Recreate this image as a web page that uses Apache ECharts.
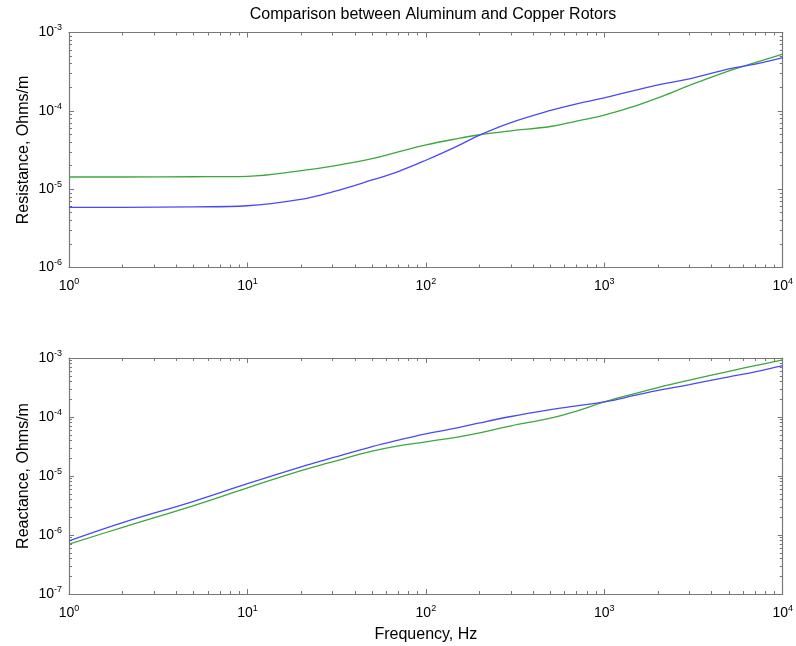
<!DOCTYPE html>
<html>
<head>
<meta charset="utf-8">
<script src="https://cdn.jsdelivr.net/npm/echarts@6/dist/echarts.min.js"></script>
<style>html,body{margin:0;padding:0;background:#fff}#c{width:796px;height:646px}</style>
</head>
<body>
<div id="c"></div>
<script>
const titleText = 'Comparison between Aluminum and Copper Rotors';
const freq = [1,2,5,10,20,30,50,70,100,150,200,300,500,700,1000,1500,2000,3000,5000,7000,10000];
// Top: resistance
const resBlue = [5.86e-6,5.87e-6,5.94e-6,6.14e-6,7.41e-6,9.23e-6,1.31e-5,1.68e-5,2.34e-5,3.55e-5,4.90e-5,7.08e-5,1.01e-4,1.23e-4,1.46e-4,1.84e-4,2.15e-4,2.56e-4,3.43e-4,3.94e-4,4.79e-4];
const resGreen = [1.43e-5,1.43e-5,1.44e-5,1.46e-5,1.72e-5,1.97e-5,2.45e-5,2.99e-5,3.67e-5,4.42e-5,4.95e-5,5.56e-5,6.31e-5,7.41e-5,8.81e-5,1.16e-4,1.46e-4,2.11e-4,3.24e-4,4.12e-4,5.31e-4];
// Bottom: reactance
const reaBlue = [7.94e-7,1.62e-6,3.72e-6,7.41e-6,1.43e-5,2.04e-5,3.16e-5,4.07e-5,5.19e-5,6.53e-5,7.94e-5,1.02e-4,1.33e-4,1.55e-4,1.80e-4,2.34e-4,2.82e-4,3.55e-4,4.79e-4,5.82e-4,7.41e-4];
const reaGreen = [7.00e-7,1.35e-6,3.16e-6,6.31e-6,1.23e-5,1.74e-5,2.63e-5,3.24e-5,3.80e-5,4.57e-5,5.37e-5,7.08e-5,9.55e-5,1.26e-4,1.80e-4,2.51e-4,3.16e-4,4.22e-4,5.96e-4,7.41e-4,9.33e-4];
const xMajor = [1,10,100,1000,10000];
const yMajorTop = [1e-6,1e-5,1e-4,1e-3];
const yMajorBottom = [1e-7,1e-6,1e-5,1e-4,1e-3];
const yNameTop = 'Resistance, Ohms/m';
const yNameBottom = 'Reactance, Ohms/m';
const xName = 'Frequency, Hz';

function minorOf(majors){
  const out=[];
  for(let i=0;i<majors.length-1;i++){for(let k=2;k<=9;k++){out.push(+(majors[i]*k).toPrecision(3));}}
  return out;
}
const FONT = 'Liberation Sans, Arial, sans-serif';
const AX = '#777777';
const labelFmt = v => '10{e|' + Math.round(Math.log10(v)) + '}';
const rich = { e: { fontSize: 9, fontFamily: FONT, color: '#000', padding: [0,0,9,0] } };

const grids = [
  {left:69, top:32.5, width:716, height:235},
  {left:69, top:358, width:716, height:236}
];
const yMins = [1e-6,1e-7], yMaxs=[1e-3,1e-3];
const yMajors = [yMajorTop, yMajorBottom];

const xAxes=[], yAxes=[];
const xMainIdx=[], yMainIdx=[];
for(let g=0; g<2; g++){
  const base = {type:'log', logBase:10, min:1, max:10000, gridIndex:g, splitLine:{show:false}};
  xMainIdx.push(xAxes.length);
  xAxes.push(Object.assign({}, base, {position:'bottom',
    axisLine:{show:true, lineStyle:{color:AX,width:1.2}},
    axisTick:{show:true, inside:true, length:5, customValues:xMajor, lineStyle:{color:AX}},
    axisLabel:{show:true, customValues:xMajor, formatter:labelFmt, rich:rich, fontSize:14, fontFamily:FONT, color:'#000', margin:10},
    name: g===1 ? xName : '', nameLocation:'middle', nameGap:33,
    nameTextStyle:{fontSize:16, fontFamily:FONT, color:'#000'}
  }));
  xAxes.push(Object.assign({}, base, {position:'bottom', axisLine:{show:false},
    axisTick:{show:true, inside:true, length:3, customValues:minorOf(xMajor), lineStyle:{color:AX}}, axisLabel:{show:false}}));
  xAxes.push(Object.assign({}, base, {position:'top', axisLine:{show:true, lineStyle:{color:AX,width:1.2}},
    axisTick:{show:true, inside:true, length:5, customValues:xMajor, lineStyle:{color:AX}}, axisLabel:{show:false}}));
  xAxes.push(Object.assign({}, base, {position:'top', axisLine:{show:false},
    axisTick:{show:true, inside:true, length:3, customValues:minorOf(xMajor), lineStyle:{color:AX}}, axisLabel:{show:false}}));

  const yb = {type:'log', logBase:10, min:yMins[g], max:yMaxs[g], gridIndex:g, splitLine:{show:false}};
  const ym = yMajors[g];
  yMainIdx.push(yAxes.length);
  yAxes.push(Object.assign({}, yb, {position:'left',
    axisLine:{show:true, lineStyle:{color:AX,width:1.2}},
    axisTick:{show:true, inside:true, length:5, customValues:ym, lineStyle:{color:AX}},
    axisLabel:{show:true, customValues:ym, formatter:labelFmt, rich:rich, fontSize:14, fontFamily:FONT, color:'#000', margin:7},
    name: g===0 ? yNameTop : yNameBottom, nameLocation:'middle', nameGap:37, nameRotate:90,
    nameMoveOverlap:false,
    nameTextStyle:{fontSize:16, fontFamily:FONT, color:'#000', verticalAlign:'bottom'}
  }));
  yAxes.push(Object.assign({}, yb, {position:'left', axisLine:{show:false},
    axisTick:{show:true, inside:true, length:3, customValues:minorOf(ym), lineStyle:{color:AX}}, axisLabel:{show:false}}));
  yAxes.push(Object.assign({}, yb, {position:'right', axisLine:{show:true, lineStyle:{color:AX,width:1.2}},
    axisTick:{show:true, inside:true, length:5, customValues:ym, lineStyle:{color:AX}}, axisLabel:{show:false}}));
  yAxes.push(Object.assign({}, yb, {position:'right', axisLine:{show:false},
    axisTick:{show:true, inside:true, length:3, customValues:minorOf(ym), lineStyle:{color:AX}}, axisLabel:{show:false}}));
}

function pairs(ys){ return freq.map((f,i)=>[f, ys[i]]); }
const BLUE='#4a4af5', GREEN='#3ca83c';
function line(ys, color, g){
  return {type:'line', xAxisIndex:xMainIdx[g], yAxisIndex:yMainIdx[g], data:pairs(ys),
    smooth:0.4, showSymbol:false, symbol:'none', lineStyle:{color:color, width:1.3}, silent:true, animation:false};
}

const chart = echarts.init(document.getElementById('c'), null, {renderer:'canvas'});
chart.setOption({
  animation:false,
  backgroundColor:'#fff',
  title:{text:titleText, left:428, top:2, textAlign:'center',
    textStyle:{fontSize:16, fontWeight:'normal', fontFamily:FONT, color:'#000'}},
  grid:grids,
  xAxis:xAxes,
  yAxis:yAxes,
  series:[
    line(resGreen, GREEN, 0), line(resBlue, BLUE, 0),
    line(reaGreen, GREEN, 1), line(reaBlue, BLUE, 1)
  ]
});
</script>
</body>
</html>
